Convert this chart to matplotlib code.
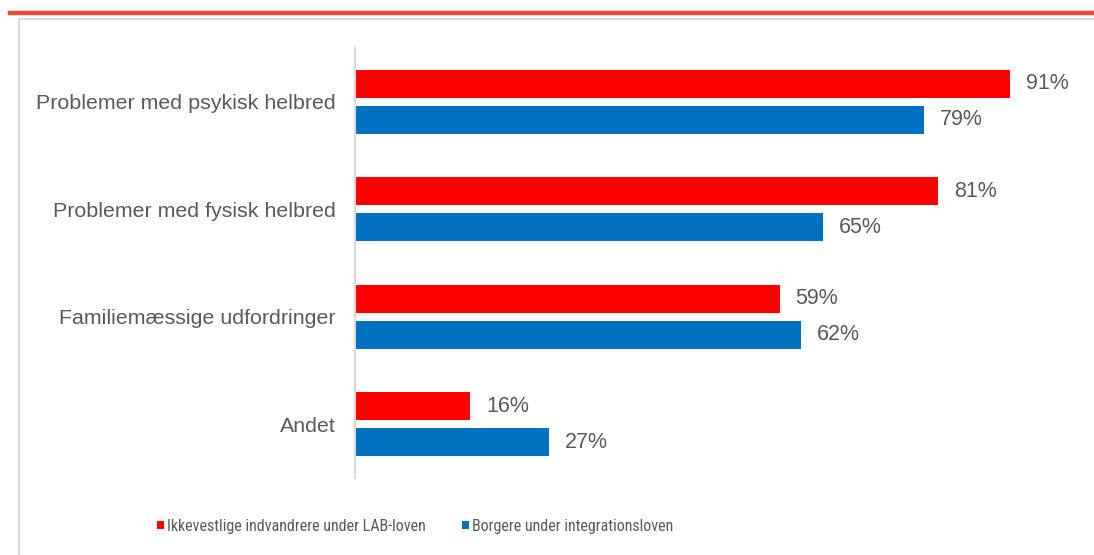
import numpy as np
import matplotlib
matplotlib.use("Agg")
import matplotlib.pyplot as plt
import matplotlib.patches as patches
from matplotlib.lines import Line2D

categories = [
    "Problemer med psykisk helbred",
    "Problemer med fysisk helbred",
    "Familiemæssige udfordringer",
    "Andet",
]
series_names = [
    "Ikkevestlige indvandrere under LAB-loven",
    "Borgere under integrationsloven",
]
lab_values = [91, 81, 59, 16]
integ_values = [79, 65, 62, 27]

RED = "#ff0000"
BLUE = "#0070c0"
TEXT = "#595959"

plt.rcParams["font.family"] = ["Liberation Sans", "DejaVu Sans"]

W, H = 1094, 555
fig = plt.figure(figsize=(W / 100, H / 100), dpi=100)

# red rule on top and the light grey chart frame
fig.add_artist(Line2D([10 / W, 1.0], [1 - 13 / H, 1 - 13 / H], color="#f04a36", linewidth=3.2))
fig.add_artist(patches.Rectangle((19 / W, -0.05), 1.2, 1 - 19 / H + 0.05,
                                 transform=fig.transFigure, fill=False,
                                 edgecolor="#d9d9d9", linewidth=1.5))

ax = fig.add_axes([355 / W, (H - 478) / H, 720 / W, 430 / H])
y = np.arange(len(categories))
bh = 0.26
off = 0.167
ax.barh(y - off, lab_values, height=bh, color=RED, label=series_names[0])
ax.barh(y + off, integ_values, height=bh, color=BLUE, label=series_names[1])

for yi, v in zip(y, lab_values):
    ax.text(v + 2.2, yi - off, f"{v}%", va="center", ha="left", fontsize=15.5, color=TEXT)
for yi, v in zip(y, integ_values):
    ax.text(v + 2.2, yi + off, f"{v}%", va="center", ha="left", fontsize=15.5, color=TEXT)

ax.set_xlim(0, 100)
ax.set_ylim(len(categories) - 0.5, -0.5)
ax.set_yticks(y)
ax.set_yticklabels(categories, fontsize=15.4, color=TEXT)
ax.tick_params(axis="y", length=0, pad=14)
ax.set_xticks([])
for s in ["top", "right", "bottom"]:
    ax.spines[s].set_visible(False)
ax.spines["left"].set_color("#d9d9d9")
ax.spines["left"].set_linewidth(1.5)

handles, labels = ax.get_legend_handles_labels()
fig.legend(handles, labels, loc="center", bbox_to_anchor=(415 / W, 1 - 526 / H),
           ncol=2, frameon=False, labelcolor=TEXT,
           prop={"family": ["Roboto Condensed", "Liberation Sans"], "size": 11.5},
           handlelength=0.44, handleheight=0.44, handletextpad=0.19, columnspacing=2.25,
           borderpad=0, borderaxespad=0)

fig.savefig("out.png", dpi=100)
